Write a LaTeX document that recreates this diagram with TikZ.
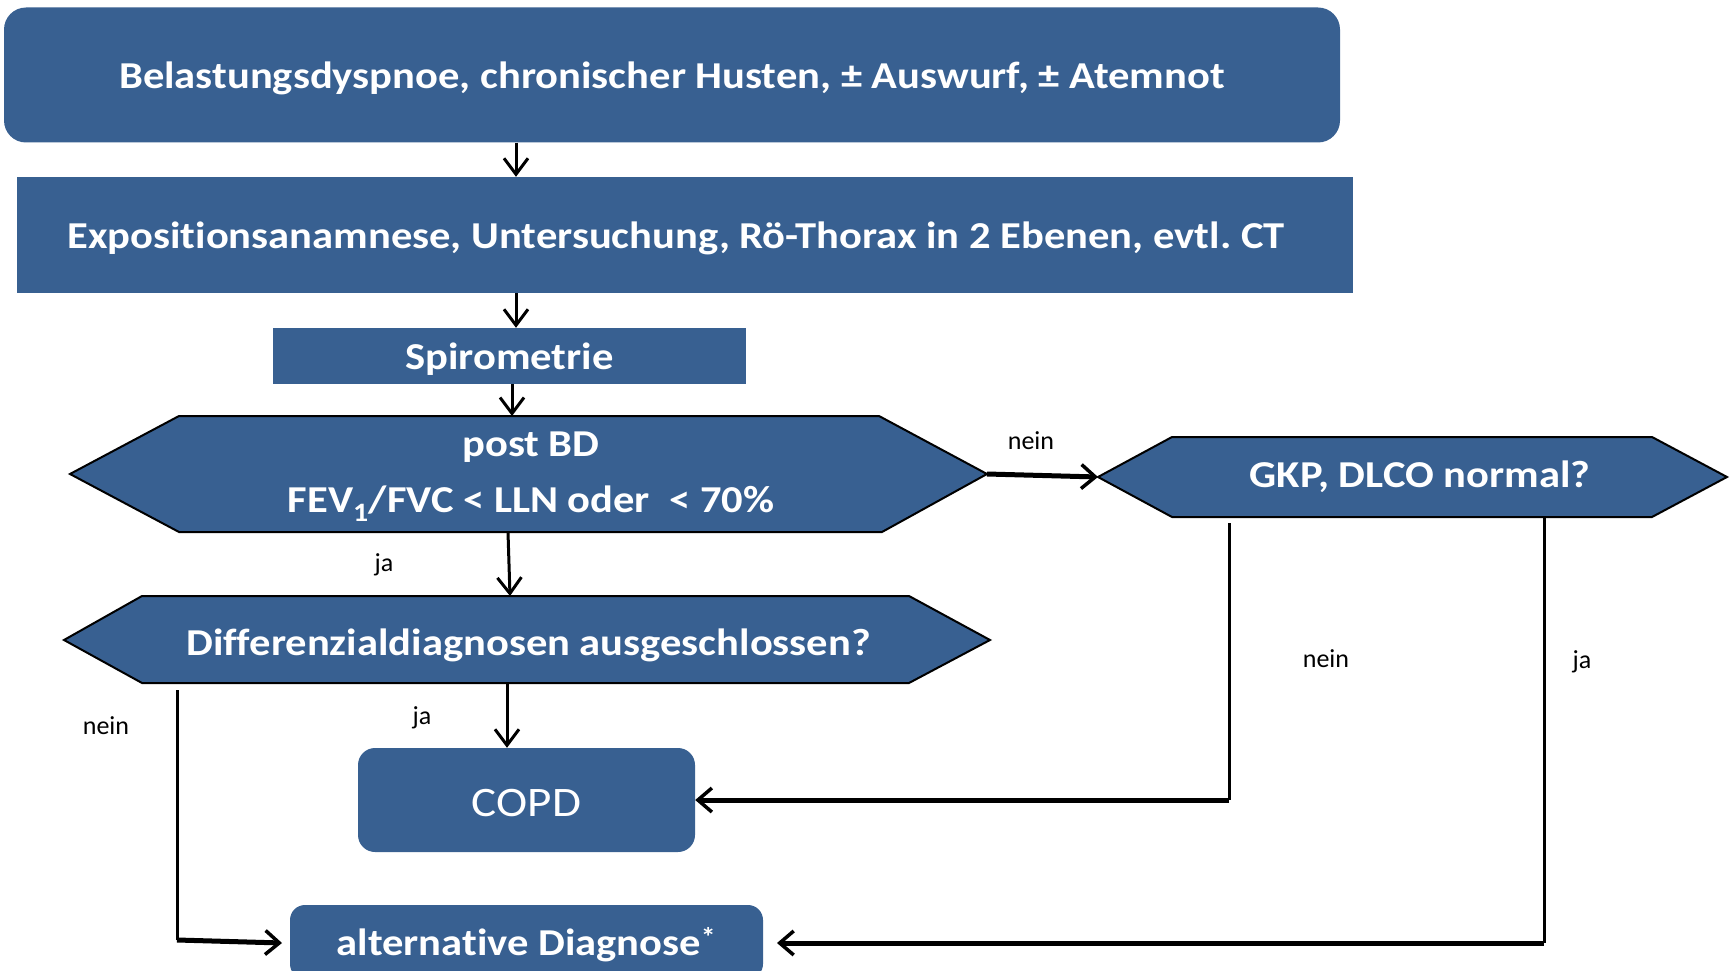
\documentclass[tikz,border=0pt]{standalone}
\usepackage{fontspec}
\setmainfont{Carlito}[Ligatures=NoCommon]
\newfontfamily\widefont{Carlito}[FakeStretch=1.12, Ligatures=NoCommon]
\usetikzlibrary{arrows.meta}
\definecolor{boxblue}{RGB}{56,96,145}
\newcommand\lowr[1]{\raisebox{-3pt}[\height][\depth]{#1}}
\frenchspacing
\begin{document}
\begin{tikzpicture}[x=1pt,y=-1pt,
  fillbox/.style={fill=boxblue, draw=none, inner sep=0pt},
  maintext/.style={text=white, font=\widefont\bfseries\fontsize{38}{56}\selectfont, align=center},
  lbl/.style={font=\fontsize{26}{30}\selectfont, text=black, inner sep=0pt},
  hexline/.style={draw=black, line width=2pt, fill=boxblue, line join=miter},
  conn/.style={line width=3pt, -{Straight Barb[length=16pt,width=24pt,line width=3pt]}},
  thickconn/.style={line width=5pt, -{Straight Barb[length=14pt,width=24pt,line width=3.5pt]}},
  plainline/.style={line width=3pt}
]
\useasboundingbox (0,0) rectangle (1733,971);

% boxes
\node[fillbox, maintext, rounded corners=22pt, minimum width=1336pt, minimum height=135pt] (b1) at (672,75)
  {\lowr{Belastungsdyspnoe, chronischer Husten, ± Auswurf, ± Atemnot}};
\node[fillbox, maintext, minimum width=1336pt, minimum height=116pt] (b2) at (685,235)
  {\lowr{Expositionsanamnese, Untersuchung, Rö-Thorax in 2 Ebenen, evtl. CT}\hspace*{18pt}};
\node[fillbox, maintext, minimum width=473pt, minimum height=56pt] (sp) at (509.5,356)
  {\lowr{Spirometrie}};

% hexagon 1
\filldraw[hexline] (70,474) -- (179,416) -- (879,416) -- (987,474) -- (882,532) -- (179,532) -- cycle;
\node[maintext] (h1) at (531,477) {post BD\\FEV\textsubscript{1}/FVC < LLN oder~ < 70\%};
\coordinate (h1n) at (512,416);
\coordinate (h1s) at (508,532);
\coordinate (h1e) at (987,474);

% hexagon 2
\filldraw[hexline] (64,640) -- (142,596) -- (909,596) -- (990,640) -- (909,683) -- (142,683) -- cycle;
\node[maintext] (h2) at (528.5,645) {Differenzialdiagnosen ausgeschlossen?};
\coordinate (h2n) at (510,596);
\coordinate (h2s) at (507,683);
\coordinate (h2l) at (177,690);

% hexagon 3
\filldraw[hexline] (1098,477) -- (1172,437) -- (1652,437) -- (1727,477) -- (1652,517) -- (1172,517) -- cycle;
\node[maintext] (h3) at (1420,477) {GKP, DLCO normal?};
\coordinate (h3w) at (1098,477);
\coordinate (h3a) at (1229,523);
\coordinate (h3b) at (1544,517);

% result boxes
\node[fillbox, text=white, font=\widefont\fontsize{42}{50}\selectfont, rounded corners=17pt, minimum width=337pt, minimum height=104pt] (copd) at (526.5,800) {\lowr{COPD}};
\node[fillbox, maintext, rounded corners=15pt, minimum width=473pt, minimum height=74pt] (alt) at (526.5,942) {\lowr{alternative Diagnose\textsuperscript{*}}};

% corner coordinates
\coordinate (c1) at (1229,800);
\coordinate (c2) at (1544,943);
\coordinate (c3) at (177,940);
\coordinate (altw) at (282,943);
\coordinate (alte) at (777,943);

% connectors
\draw[conn] (b1.south -| 516,0) -- (b2.north -| 516,0);
\draw[conn] (b2.south -| 516,0) -- (sp.north -| 516,0);
\draw[conn] (sp.south -| h1n) -- (h1n);
\draw[conn] (h1s) -- (h2n);
\draw[thickconn] (h1e) -- (h3w);
\draw[conn] (h2s) -- (copd.north -| h2s);
\draw[plainline] (h3a) -- (c1);
\draw[thickconn] (c1) -- (copd.east);
\draw[plainline] (h3b) -- (c2);
\draw[thickconn] (c2) -- (alte);
\draw[plainline] (h2l) -- (c3);
\draw[thickconn] (c3) -- (altw);

% labels
\node[lbl] (l1) at (1031,441) {nein};
\node[lbl] (l2) at (384,565) {ja};
\node[lbl] (l3) at (1326,659) {nein};
\node[lbl] (l4) at (1582,662) {ja};
\node[lbl] (l5) at (422,718) {ja};
\node[lbl] (l6) at (106,726) {nein};
\end{tikzpicture}
\end{document}
